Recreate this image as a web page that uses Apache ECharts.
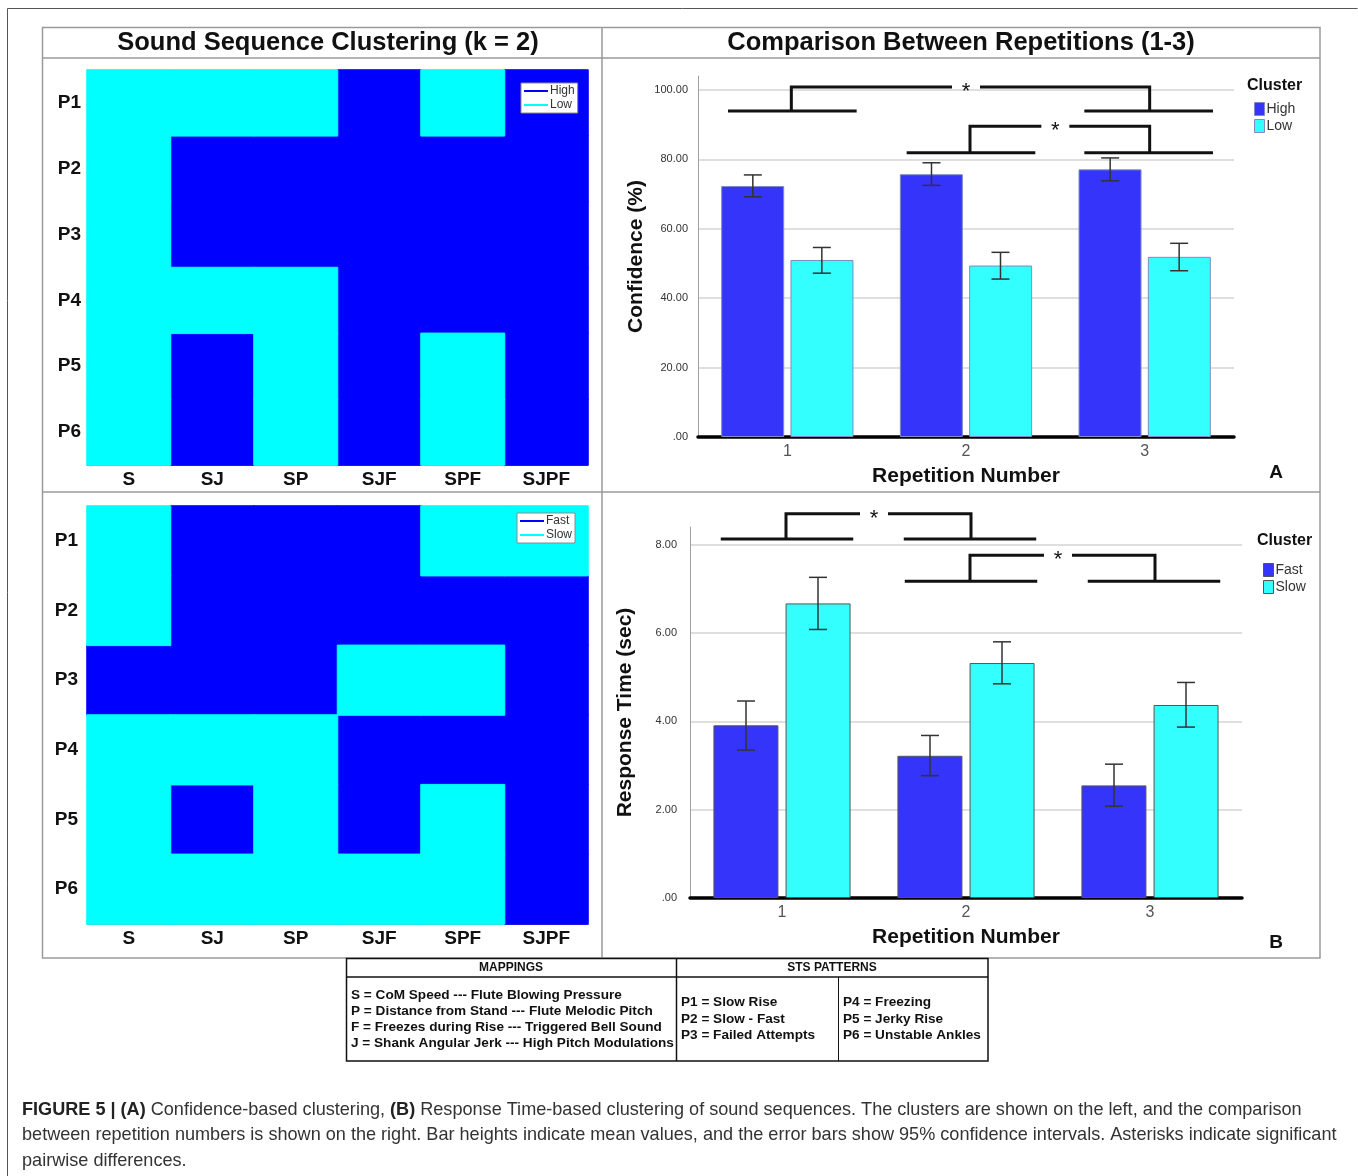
<!DOCTYPE html>
<html>
<head>
<meta charset="utf-8">
<script src="https://cdn.jsdelivr.net/npm/echarts@6/dist/echarts.min.js"></script>
<style>
  html, body { margin: 0; padding: 0; background: #fff; }
  #chart { width: 1358px; height: 1176px; }
</style>
</head>
<body>
<div id="chart"></div>
<script>
// categories
const sequences = ['S', 'SJ', 'SP', 'SJF', 'SPF', 'SJPF'];
const patterns = ['P1', 'P2', 'P3', 'P4', 'P5', 'P6'];
const repetitions = ['1', '2', '3'];

// cluster membership, one row per pattern (1 = High / Fast, 0 = Low / Slow)
const confClusters = [
    [0, 0, 0, 1, 0, 1],
    [0, 1, 1, 1, 1, 1],
    [0, 1, 1, 1, 1, 1],
    [0, 0, 0, 1, 1, 1],
    [0, 1, 0, 1, 0, 1],
    [0, 1, 0, 1, 0, 1]
];
const rtClusters = [
    [0, 1, 1, 1, 0, 0],
    [0, 1, 1, 1, 1, 1],
    [1, 1, 1, 0, 0, 1],
    [0, 0, 0, 1, 1, 1],
    [0, 1, 0, 1, 0, 1],
    [0, 0, 0, 0, 0, 1]
];

// confidence (%) means and 95% CI
const confHigh = [72.3, 75.7, 77.1];
const confHighLo = [69.2, 72.5, 73.8];
const confHighHi = [75.5, 79.0, 80.4];
const confLow = [51.0, 49.4, 51.9];
const confLowLo = [47.2, 45.5, 47.9];
const confLowHi = [54.6, 53.2, 55.8];

// response time (sec) means and 95% CI
const rtFast = [3.91, 3.22, 2.55];
const rtFastLo = [3.35, 2.77, 2.08];
const rtFastHi = [4.46, 3.68, 3.03];
const rtSlow = [6.67, 5.32, 4.37];
const rtSlowLo = [6.08, 4.85, 3.87];
const rtSlowHi = [7.26, 5.80, 4.88];

// significance brackets: [from repetition, to repetition, foot value, top value]
const confBrackets = [[0, 2, 93.9, 100.8], [1, 2, 81.9, 89.5]];
const rtBrackets = [[0, 1, 8.13, 8.70], [1, 2, 7.17, 7.76]];

// y axis labels
const confTicks = [0, 20, 40, 60, 80, 100];
const rtTicks = [0, 2, 4, 6, 8];

// text blocks
const mappingLines = [
    'S = CoM Speed --- Flute Blowing Pressure',
    'P = Distance from Stand --- Flute Melodic Pitch',
    'F = Freezes during Rise --- Triggered Bell Sound',
    'J = Shank Angular Jerk --- High Pitch Modulations'
];
const patternLinesA = ['P1 = Slow Rise', 'P2 = Slow - Fast', 'P3 = Failed Attempts'];
const patternLinesB = ['P4 = Freezing', 'P5 = Jerky Rise', 'P6 = Unstable Ankles'];
const captionLines = [
    '{b|FIGURE 5 | (A)} Confidence-based clustering, {b|(B)} Response Time-based clustering of sound sequences. The clusters are shown on the left, and the comparison',
    'between repetition numbers is shown on the right. Bar heights indicate mean values, and the error bars show 95% confidence intervals. Asterisks indicate significant',
    'pairwise differences.'
];

const SANS = "'Liberation Sans', Arial, Helvetica, sans-serif";
const NARROW = "'Liberation Sans Narrow', 'Arial Narrow', 'Liberation Sans', Arial, sans-serif";
const BLUE = '#0000ff';
const CYAN = '#00ffff';
const BAR_BLUE = '#3434fb';
const BAR_CYAN = '#33ffff';

// cells of one cluster value, as [column, row, value]
function cellsOf(matrix, value) {
    const cells = [];
    matrix.forEach(function (row, r) {
        row.forEach(function (v, c) {
            if (v === value) cells.push([c, r, v]);
        });
    });
    return cells;
}

function ciData(lo, hi) {
    return lo.map(function (v, i) { return [i, v, hi[i]]; });
}

// error bar drawn at a bar that is shifted from the category centre
function errorBar(shift) {
    return function (params, api) {
        const i = api.value(0);
        const lo = api.coord([i, api.value(1)]);
        const hi = api.coord([i, api.value(2)]);
        const x = lo[0] + shift;
        const cap = 9;
        const style = { stroke: '#333', lineWidth: 1.5 };
        return {
            type: 'group',
            children: [
                { type: 'line', shape: { x1: x, y1: lo[1], x2: x, y2: hi[1] }, style: style },
                { type: 'line', shape: { x1: x - cap, y1: hi[1], x2: x + cap, y2: hi[1] }, style: style },
                { type: 'line', shape: { x1: x - cap, y1: lo[1], x2: x + cap, y2: lo[1] }, style: style }
            ]
        };
    };
}

function bracket(params, api) {
    const a = api.coord([api.value(0), api.value(2)]);
    const b = api.coord([api.value(1), api.value(2)]);
    const top = api.coord([api.value(0), api.value(3)])[1];
    const half = api.size([1, 0])[0] * 0.36;
    const mid = (a[0] + b[0]) / 2;
    const gap = 14;
    const style = { stroke: '#111', lineWidth: 3, fill: null };
    return {
        type: 'group',
        children: [
            { type: 'line', shape: { x1: a[0] - half + 5, y1: a[1], x2: a[0] + half + 5, y2: a[1] }, style: style },
            { type: 'line', shape: { x1: b[0] - half + 4, y1: b[1], x2: b[0] + half + 4, y2: b[1] }, style: style },
            { type: 'polyline', shape: { points: [[a[0] + 4, a[1]], [a[0] + 4, top], [mid - gap, top]] }, style: style },
            { type: 'polyline', shape: { points: [[mid + gap, top], [b[0] + 5, top], [b[0] + 5, b[1]]] }, style: style },
            {
                type: 'text',
                style: {
                    text: '*', x: mid, y: top + 5, align: 'center', verticalAlign: 'middle',
                    textAlign: 'center', textVerticalAlign: 'middle',
                    fontSize: 22, fontFamily: SANS, fill: '#111'
                }
            }
        ]
    };
}

function heatXAxis(gridIndex) {
    return {
        type: 'category', gridIndex: gridIndex, data: sequences,
        axisLine: { lineStyle: { color: '#888', width: 1 } },
        axisTick: { inside: true, alignWithLabel: true, length: 4, lineStyle: { color: '#888' } },
        axisLabel: { fontFamily: SANS, fontWeight: 'bold', fontSize: 19, color: '#111', margin: 5 },
        splitLine: { show: false }
    };
}

function heatYAxis(gridIndex, margin) {
    return {
        type: 'category', gridIndex: gridIndex, data: patterns, inverse: true,
        axisLine: { lineStyle: { color: '#888', width: 1 } },
        axisTick: { inside: true, alignWithLabel: true, length: 4, lineStyle: { color: '#888' } },
        axisLabel: { fontFamily: SANS, fontWeight: 'bold', fontSize: 19, color: '#111', margin: margin },
        splitLine: { show: false }
    };
}

function heatSeries(gridIndex, matrix, value, color) {
    return {
        type: 'heatmap', xAxisIndex: gridIndex, yAxisIndex: gridIndex, data: cellsOf(matrix, value),
        itemStyle: { color: color, borderColor: color, borderWidth: 1 },
        emphasis: { disabled: true }, silent: true
    };
}

function barXAxis(gridIndex) {
    return {
        type: 'category', gridIndex: gridIndex, data: repetitions,
        axisLine: { lineStyle: { color: '#000', width: 3.5 } },
        axisTick: { show: false },
        axisLabel: { fontFamily: NARROW, fontSize: 16, color: '#555', margin: 7 },
        name: 'Repetition Number', nameLocation: 'middle', nameGap: 29,
        nameTextStyle: { fontFamily: SANS, fontWeight: 'bold', fontSize: 21, color: '#111' }
    };
}

function barYAxis(gridIndex, max, interval, ticks, name, nameGap, margin) {
    return {
        type: 'value', gridIndex: gridIndex, min: 0, max: max, interval: interval,
        axisLine: { show: true, lineStyle: { color: '#a0a0a0', width: 1 } },
        axisTick: { show: false },
        axisLabel: {
            fontFamily: NARROW, fontSize: 11, color: '#333', margin: margin, showMaxLabel: false,
            formatter: function (v) {
                if (ticks.indexOf(v) < 0) return '';
                return v === 0 ? '.00' : v.toFixed(2);
            }
        },
        splitLine: { show: true, showMaxLine: false, showMinLine: false, lineStyle: { color: '#d4d4d4', width: 1.5 } },
        name: name, nameLocation: 'middle', nameRotate: 90, nameGap: nameGap,
        nameTextStyle: { fontFamily: SANS, fontWeight: 'bold', fontSize: 21, color: '#111' }
    };
}

function lineLegend(names, left, top) {
    return {
        orient: 'vertical', left: left, top: top, selectedMode: false,
        icon: 'rect', itemWidth: 24, itemHeight: 2, itemGap: 2,
        backgroundColor: '#fff', borderColor: '#8a8a8a', borderWidth: 1, padding: [2, 3, 2, 3],
        textStyle: { fontFamily: SANS, fontSize: 12, color: '#333', padding: [0, 0, 0, -3] },
        data: [
            { name: names[0], itemStyle: { color: BLUE, borderWidth: 0 } },
            { name: names[1], itemStyle: { color: CYAN, borderWidth: 0 } }
        ]
    };
}

function boxLegend(names, left, top, border) {
    return {
        orient: 'vertical', left: left, top: top, selectedMode: false,
        icon: 'rect', itemWidth: 10, itemHeight: 13, itemGap: 3, padding: 0,
        textStyle: { fontFamily: NARROW, fontSize: 14, color: '#333', padding: [0, 0, 0, -3] },
        data: [
            { name: names[0], itemStyle: { color: BAR_BLUE, borderColor: border, borderWidth: 1 } },
            { name: names[1], itemStyle: { color: BAR_CYAN, borderColor: border, borderWidth: 1 } }
        ]
    };
}

function text(x, y, str, extra) {
    const style = Object.assign({
        text: str, fontFamily: SANS, fill: '#111',
        align: 'left', verticalAlign: 'middle'
    }, extra || {});
    style.textAlign = style.align;
    style.textVerticalAlign = style.verticalAlign;
    return { type: 'text', x: x, y: y, silent: true, style: style };
}

function line(x1, y1, x2, y2, color, width) {
    return { type: 'line', silent: true, shape: { x1: x1, y1: y1, x2: x2, y2: y2 }, style: { stroke: color, lineWidth: width } };
}

const frame = '#9a9a9a';
const bodyText = { verticalAlign: 'top', fontFamily: NARROW, fontSize: 13.6, fontWeight: 'bold' };
const graphics = [
    { type: 'polyline', silent: true, shape: { points: [[7.5, 1176], [7.5, 8.5], [1357.5, 8.5]] }, style: { stroke: '#555', lineWidth: 1, fill: null } },
    { type: 'rect', silent: true, shape: { x: 42.5, y: 27.5, width: 1277.5, height: 930.5 }, style: { stroke: frame, lineWidth: 1.5, fill: null } },
    line(42.5, 58, 1320, 58, frame, 1.5),
    line(602, 27.5, 602, 958, frame, 1.5),
    line(42.5, 492, 1320, 492, frame, 1.5),
    text(328, 43, 'Sound Sequence Clustering (k = 2)', { align: 'center', fontSize: 25.5, fontWeight: 'bold' }),
    text(961, 43, 'Comparison Between Repetitions (1-3)', { align: 'center', fontSize: 25.5, fontWeight: 'bold' }),
    text(1247, 86, 'Cluster', { fontSize: 16, fontWeight: 'bold' }),
    text(1257, 541, 'Cluster', { fontSize: 16, fontWeight: 'bold' }),
    text(1276, 473, 'A', { align: 'center', fontSize: 19, fontWeight: 'bold' }),
    text(1276, 943, 'B', { align: 'center', fontSize: 19, fontWeight: 'bold' }),
    // legend table
    { type: 'rect', silent: true, shape: { x: 346.5, y: 958.5, width: 641.5, height: 102.5 }, style: { stroke: '#111', lineWidth: 1.5, fill: null } },
    line(346.5, 977, 988, 977, '#111', 1.5),
    line(676.5, 958.5, 676.5, 1061, '#111', 1.5),
    line(838.5, 977, 838.5, 1061, '#111', 1),
    text(511, 968, 'MAPPINGS', { align: 'center', fontSize: 12, fontWeight: 'bold' }),
    text(832, 968, 'STS PATTERNS', { align: 'center', fontSize: 12, fontWeight: 'bold' }),
    text(351, 987, mappingLines.join('\n'), Object.assign({ lineHeight: 16 }, bodyText)),
    text(681, 994, patternLinesA.join('\n'), Object.assign({ lineHeight: 16.5 }, bodyText)),
    text(843, 994, patternLinesB.join('\n'), Object.assign({ lineHeight: 16.5 }, bodyText)),
    // caption
    text(22, 1097, captionLines.join('\n'), {
        verticalAlign: 'top', fontSize: 18.1, fill: '#333', lineHeight: 25.5,
        rich: { b: { fontFamily: SANS, fontSize: 18.1, fontWeight: 'bold', fill: '#222', lineHeight: 25.5 } }
    })
];

const chart = echarts.init(document.getElementById('chart'));

const option = {
    backgroundColor: '#fff',
    animation: false,
    textStyle: { fontFamily: SANS },
    grid: [
        { left: 87, top: 70, width: 501, height: 395 },
        { left: 698, top: 76, width: 536, height: 361 },
        { left: 87, top: 506, width: 501, height: 418 },
        { left: 690, top: 527, width: 552, height: 371 }
    ],
    xAxis: [heatXAxis(0), barXAxis(1), heatXAxis(2), barXAxis(3)],
    yAxis: [
        heatYAxis(0, 6),
        barYAxis(1, 104, 20, confTicks, 'Confidence (%)', 51, 10),
        heatYAxis(2, 9),
        barYAxis(3, 8.4, 2, rtTicks, 'Response Time (sec)', 54, 13)
    ],
    legend: [
        lineLegend(['High', 'Low'], 521, 83),
        boxLegend(['High', 'Low'], 1254, 102, '#7d8cc4'),
        lineLegend(['Fast', 'Slow'], 517, 513),
        boxLegend(['Fast', 'Slow'], 1263, 563, '#555')
    ],
    series: [
        heatSeries(0, confClusters, 1, BLUE),
        heatSeries(0, confClusters, 0, CYAN),
        {
            name: 'High', type: 'bar', xAxisIndex: 1, yAxisIndex: 1, data: confHigh,
            barWidth: 63, barGap: '10%',
            itemStyle: { color: BAR_BLUE, borderColor: '#7d8cc4', borderWidth: 1 }
        },
        {
            name: 'Low', type: 'bar', xAxisIndex: 1, yAxisIndex: 1, data: confLow,
            barWidth: 63, barGap: '10%',
            itemStyle: { color: BAR_CYAN, borderColor: '#7d8cc4', borderWidth: 1 }
        },
        {
            type: 'custom', xAxisIndex: 1, yAxisIndex: 1, renderItem: errorBar(-34.5),
            encode: { x: 0, y: [1, 2] }, data: ciData(confHighLo, confHighHi), z: 5, silent: true
        },
        {
            type: 'custom', xAxisIndex: 1, yAxisIndex: 1, renderItem: errorBar(34.5),
            encode: { x: 0, y: [1, 2] }, data: ciData(confLowLo, confLowHi), z: 5, silent: true
        },
        {
            type: 'custom', xAxisIndex: 1, yAxisIndex: 1, renderItem: bracket, clip: false,
            encode: { x: 0, y: 2 }, data: confBrackets, z: 6, silent: true
        },
        heatSeries(2, rtClusters, 1, BLUE),
        heatSeries(2, rtClusters, 0, CYAN),
        {
            name: 'Fast', type: 'bar', xAxisIndex: 3, yAxisIndex: 3, data: rtFast,
            barWidth: 65, barGap: '11%',
            itemStyle: { color: BAR_BLUE, borderColor: '#555', borderWidth: 1 }
        },
        {
            name: 'Slow', type: 'bar', xAxisIndex: 3, yAxisIndex: 3, data: rtSlow,
            barWidth: 65, barGap: '11%',
            itemStyle: { color: BAR_CYAN, borderColor: '#555', borderWidth: 1 }
        },
        {
            type: 'custom', xAxisIndex: 3, yAxisIndex: 3, renderItem: errorBar(-36),
            encode: { x: 0, y: [1, 2] }, data: ciData(rtFastLo, rtFastHi), z: 5, silent: true
        },
        {
            type: 'custom', xAxisIndex: 3, yAxisIndex: 3, renderItem: errorBar(36),
            encode: { x: 0, y: [1, 2] }, data: ciData(rtSlowLo, rtSlowHi), z: 5, silent: true
        },
        {
            type: 'custom', xAxisIndex: 3, yAxisIndex: 3, renderItem: bracket, clip: false,
            encode: { x: 0, y: 2 }, data: rtBrackets, z: 6, silent: true
        }
    ],
    graphic: graphics
};

chart.setOption(option);
</script>
</body>
</html>
